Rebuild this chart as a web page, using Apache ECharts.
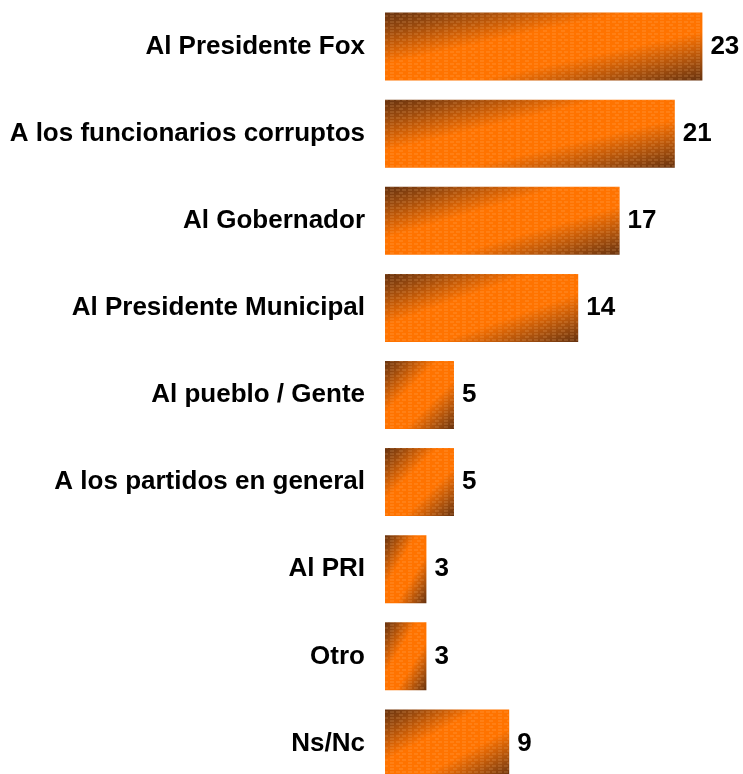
<!DOCTYPE html>
<html>
<head>
<meta charset="utf-8">
<script src="https://cdn.jsdelivr.net/npm/echarts@6/dist/echarts.min.js"></script>
<style>
  html, body { margin: 0; padding: 0; background: #fff; }
  #chart { width: 743px; height: 774px; }
</style>
</head>
<body>
<div id="chart"></div>
<script>
// categorias (de arriba hacia abajo) y porcentajes
const categories = [
    'Al Presidente Fox',
    'A los funcionarios corruptos',
    'Al Gobernador',
    'Al Presidente Municipal',
    'Al pueblo / Gente',
    'A los partidos en general',
    'Al PRI',
    'Otro',
    'Ns/Nc'
];
const values = [23, 21, 17, 14, 5, 5, 3, 3, 9];

window.addEventListener('load', function() {
    const chart = echarts.init(document.getElementById('chart'), null, { renderer: 'canvas' });

    const gridWidth = 345;
    const axisMax = 25;
    const barHeight = 68;

    // degradado diagonal: marron en las esquinas, naranja en la diagonal /
    function barFill(value) {
        const w = value * gridWidth / axisMax;
        const h = barHeight;
        const d = h * h + w * w;
        return new echarts.graphic.LinearGradient(0, 0, 2 * h * h / d, 2 * w * w / d, [
            { offset: 0, color: '#66320f' },
            { offset: 0.14, color: '#9a4a0e' },
            { offset: 0.38, color: '#ff7300' },
            { offset: 0.64, color: '#ff7300' },
            { offset: 0.86, color: '#a24e0e' },
            { offset: 1, color: '#66320f' }
        ]);
    }

    const option = {
        animation: false,
        backgroundColor: '#ffffff',
        grid: {
            left: 385,
            top: 3,
            width: gridWidth,
            height: 784,
            outerBoundsMode: 'none',
            containLabel: false
        },
        xAxis: {
            type: 'value',
            min: 0,
            max: axisMax,
            show: false
        },
        yAxis: {
            type: 'category',
            inverse: true,
            data: categories,
            axisLine: { show: false },
            axisTick: { show: false },
            splitLine: { show: false },
            axisLabel: {
                margin: 20,
                color: '#000',
                fontFamily: 'Liberation Sans, Arial, sans-serif',
                fontWeight: 'bold',
                fontSize: 26
            }
        },
        series: [{
            type: 'bar',
            data: values.map(v => ({ value: v, itemStyle: { color: barFill(v) } })),
            barWidth: barHeight,
            itemStyle: {
                decal: {
                    symbol: 'rect',
                    symbolSize: 1,
                    color: 'rgba(255, 190, 130, 0.16)',
                    dashArrayX: [[4, 2], [0, 3, 4, 2]],
                    dashArrayY: [2, 1],
                    rotation: 0
                }
            },
            label: {
                show: true,
                position: 'right',
                distance: 8,
                color: '#000',
                fontFamily: 'Liberation Sans, Arial, sans-serif',
                fontWeight: 'bold',
                fontSize: 26
            }
        }]
    };

    chart.setOption(option);
});
</script>
</body>
</html>
